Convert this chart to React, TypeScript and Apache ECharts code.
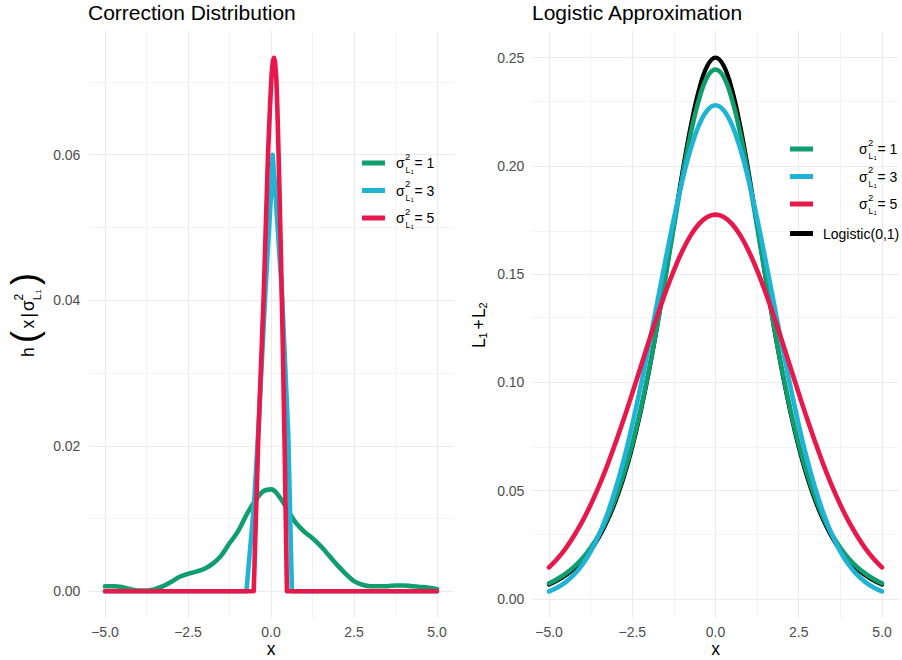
import React, { useEffect, useRef } from "react";
import * as echarts from "echarts";

// ---------- data ----------
const xGrid = [
  -5, -4.75, -4.5, -4.25, -4, -3.75, -3.5, -3.25, -3, -2.75, -2.5, -2.25, -2, -1.75, -1.5, -1.25, -1, -0.75, -0.5, -0.25,
  0, 0.25, 0.5, 0.75, 1, 1.25, 1.5, 1.75, 2, 2.25, 2.5, 2.75, 3, 3.25, 3.5, 3.75, 4, 4.25, 4.5, 4.75, 5,
];

// Left panel: correction distribution
const corrSigma1 = [
  0.0007, 0.0007, 0.0006, 0.0003, 0.0001, 0.0001, 0.0003, 0.0007, 0.0013, 0.002, 0.0024, 0.0027, 0.0031, 0.0038, 0.0049,
  0.0066, 0.0082, 0.0104, 0.0123, 0.0137, 0.014, 0.013, 0.0112, 0.0094, 0.0082, 0.0073, 0.0062, 0.0049, 0.0036, 0.0024,
  0.0014, 0.0009, 0.0007, 0.0007, 0.0007, 0.0008, 0.0008, 0.0007, 0.0006, 0.0005, 0.0003,
];
const corrSigma3X = [-5, -0.74, -0.51, -0.36, -0.17, 0.0, 0.05, 0.1, 0.2, 0.33, 0.52, 0.63, 5];
const corrSigma3 = [0, 0, 0.012, 0.024, 0.041, 0.0545, 0.06, 0.057, 0.05, 0.041, 0.0215, 0, 0];
const corrSigma5X = [-5, -0.52, -0.38, -0.22, -0.09, -0.03, 0.02, 0.06, 0.09, 0.12, 0.16, 0.19, 0.24, 0.29, 0.35, 0.41, 0.48, 5];
const corrSigma5 = [0, 0, 0.0215, 0.0407, 0.06, 0.0666, 0.0712, 0.073, 0.0733, 0.0728, 0.0705, 0.0666, 0.058, 0.048, 0.035, 0.02, 0, 0];

// Right panel: logistic approximation
const approxSigma1 = [
  0.0072, 0.0092, 0.0117, 0.0148, 0.0187, 0.0236, 0.0297, 0.0373, 0.0466, 0.058, 0.0715, 0.0875, 0.1058, 0.1265, 0.149,
  0.172, 0.1945, 0.2145, 0.2305, 0.241, 0.2445, 0.241, 0.2305, 0.2145, 0.1945, 0.172, 0.149, 0.1265, 0.1058, 0.0875,
  0.0715, 0.058, 0.0466, 0.0373, 0.0297, 0.0236, 0.0187, 0.0148, 0.0117, 0.0092, 0.0072,
];
const approxSigma3 = [
  0.0035, 0.0053, 0.0078, 0.0112, 0.0158, 0.0219, 0.0296, 0.0392, 0.0509, 0.0646, 0.0805, 0.0981, 0.1171, 0.1369, 0.1567,
  0.1757, 0.193, 0.2076, 0.2187, 0.2256, 0.228, 0.2256, 0.2187, 0.2076, 0.193, 0.1757, 0.1567, 0.1369, 0.1171, 0.0981,
  0.0805, 0.0646, 0.0509, 0.0392, 0.0296, 0.0219, 0.0158, 0.0112, 0.0078, 0.0053, 0.0035,
];
const approxSigma5 = [
  0.0146, 0.0186, 0.0234, 0.0292, 0.0358, 0.0435, 0.0521, 0.0617, 0.0722, 0.0833, 0.095, 0.107, 0.119, 0.1307, 0.1417,
  0.1518, 0.1606, 0.1678, 0.1731, 0.1764, 0.1775, 0.1764, 0.1731, 0.1678, 0.1606, 0.1518, 0.1417, 0.1307, 0.119, 0.107,
  0.095, 0.0833, 0.0722, 0.0617, 0.0521, 0.0435, 0.0358, 0.0292, 0.0234, 0.0186, 0.0146,
];
const logistic01 = [
  0.0066, 0.0085, 0.0109, 0.0139, 0.0177, 0.0224, 0.0285, 0.036, 0.0452, 0.0565, 0.0701, 0.0863, 0.105, 0.1261, 0.1491,
  0.1731, 0.1966, 0.2179, 0.235, 0.2461, 0.25, 0.2461, 0.235, 0.2179, 0.1966, 0.1731, 0.1491, 0.1261, 0.105, 0.0863,
  0.0701, 0.0565, 0.0452, 0.036, 0.0285, 0.0224, 0.0177, 0.0139, 0.0109, 0.0085, 0.0066,
];

// ticks / grid
const xMajor = [-5, -2.5, 0, 2.5, 5];
const xMinor = [-3.75, -1.25, 1.25, 3.75];
const leftYMajor = [0, 0.02, 0.04, 0.06];
const leftYMinor = [0.01, 0.03, 0.05, 0.07];
const rightYMajor = [0, 0.05, 0.1, 0.15, 0.2, 0.25];
const rightYMinor = [0.025, 0.075, 0.125, 0.175, 0.225];

const legendLabels = ["1", "3", "5"];

// ---------- styles ----------
const GREEN = "#109E6F";
const CYAN = "#1FB4D6";
const RED = "#E8184B";
const BLACK = "#000000";
const GRID = "#EBEBEB";
const TICK = "#4D4D4D";
const FONT = '"Liberation Sans", Arial, Helvetica, sans-serif';

const pairs = (xs: number[], ys: number[]) => xs.map((x, i) => [x, ys[i]]);

function gridSeries(idx: number, yMajor: number[], yMinor: number[]) {
  return {
    type: "line",
    xAxisIndex: idx,
    yAxisIndex: idx,
    data: [[0, 0]],
    symbol: "none",
    lineStyle: { width: 0, opacity: 0 },
    silent: true,
    z: 0,
    markLine: {
      silent: true,
      z: 0,
      symbol: ["none", "none"],
      label: { show: false },
      animation: false,
      lineStyle: { color: GRID, type: "solid" },
      emphasis: { disabled: true },
      data: [
        ...yMinor.map((v) => ({ yAxis: v, lineStyle: { color: GRID, width: 0.6, type: "solid" } })),
        ...xMinor.map((v) => ({ xAxis: v, lineStyle: { color: GRID, width: 0.6, type: "solid" } })),
        ...yMajor.map((v) => ({ yAxis: v, lineStyle: { color: GRID, width: 1.1, type: "solid" } })),
        ...xMajor.map((v) => ({ xAxis: v, lineStyle: { color: GRID, width: 1.1, type: "solid" } })),
      ],
    },
  };
}

function curve(idx: number, data: number[][], color: string, width: number, smooth: number | boolean, z: number) {
  return {
    type: "line",
    xAxisIndex: idx,
    yAxisIndex: idx,
    data,
    symbol: "none",
    showSymbol: false,
    smooth,
    z,
    silent: true,
    lineStyle: { color, width, cap: "round", join: "round" },
  };
}

function txt(text: string, x: number, y: number, size: number, fill = "#000", align = "left", extra: any = {}) {
  return {
    type: "text",
    silent: true,
    z: 50,
    ...extra,
    style: {
      text,
      x,
      y,
      fill,
      fontSize: size,
      fontFamily: FONT,
      align,
      textAlign: align,
      verticalAlign: "middle",
      textVerticalAlign: "middle",
    },
  };
}

// sigma^2_{L1} = v  label, with sigma glyph starting at (x, y)
function sigmaLabel(x: number, y: number, v: string) {
  return [
    txt("σ", x, y, 14),
    txt("2", x + 9, y - 7, 9.5),
    txt("L", x + 9.5, y + 7, 8.5),
    txt("1", x + 14.5, y + 9.4, 6),
    txt("= " + v, x + 18.5, y, 14),
  ];
}

function legendKey(x: number, y: number, color: string) {
  return {
    type: "line",
    silent: true,
    z: 50,
    shape: { x1: x, y1: y, x2: x + 23, y2: y },
    style: { stroke: color, lineWidth: 5 },
  };
}

const legendColors = [GREEN, CYAN, RED];
const leftLegendY = [163, 190.5, 218];
const rightLegendY = [149, 176.5, 204];

const graphic: any[] = [];
legendLabels.forEach((v, i) => {
  graphic.push(legendKey(362, leftLegendY[i], legendColors[i]));
  graphic.push(...sigmaLabel(396, leftLegendY[i], v));
  graphic.push(legendKey(790, rightLegendY[i], legendColors[i]));
  graphic.push(...sigmaLabel(859, rightLegendY[i], v));
});
graphic.push(legendKey(790, 233.5, BLACK));
graphic.push(txt("Logistic(0,1)", 823, 233.5, 14));

// left y title: h(x|sigma^2_L1)
graphic.push({
  type: "group",
  x: 34,
  y: 357,
  rotation: Math.PI / 2,
  silent: true,
  z: 50,
  children: [
    txt("h", 0, -6, 17.5),
    txt("(", 14, -9.5, 36),
    txt("x", 28.5, -6, 17.5),
    txt("|", 39.5, -6, 17.5),
    txt("σ", 46, -6, 17.5),
    txt("2", 56.5, -15.5, 12),
    txt("L", 57, 2.6, 10.5),
    txt("1", 63.5, 4.9, 7.5),
    txt(")", 72, -9.5, 36),
  ],
});

// right y title: L1 + L2
graphic.push({
  type: "group",
  x: 484.5,
  y: 348,
  rotation: Math.PI / 2,
  silent: true,
  z: 50,
  children: [
    txt("L", 0, -6, 17.5),
    txt("1", 9.5, -1.3, 11),
    txt("+", 18.5, -6, 17.5),
    txt("L", 30, -6, 17.5),
    txt("2", 39.5, -1.3, 11),
  ],
});

const fmtX = (v: number) => (v < 0 ? "\u2212" : "") + Math.abs(v).toFixed(1);

function xAxisOpt(idx: number) {
  return {
    type: "value",
    gridIndex: idx,
    min: -5.5,
    max: 5.5,
    name: "x",
    nameLocation: "middle",
    nameGap: 22,
    nameMoveOverlap: false,
    nameTextStyle: { color: "#000", fontSize: 17.5, fontFamily: FONT, lineHeight: 18 },
    axisLine: { show: false },
    axisTick: { show: false },
    splitLine: { show: false },
    axisLabel: {
      customValues: xMajor,
      formatter: fmtX,
      color: TICK,
      fontSize: 14,
      fontFamily: FONT,
      margin: 7,
    },
  };
}

function yAxisOpt(idx: number, min: number, max: number, ticks: number[], digits: number) {
  return {
    type: "value",
    gridIndex: idx,
    min,
    max,
    axisLine: { show: false },
    axisTick: { show: false },
    splitLine: { show: false },
    axisLabel: {
      customValues: ticks,
      formatter: (v: number) => v.toFixed(digits),
      color: TICK,
      fontSize: 14,
      fontFamily: FONT,
      margin: 8,
    },
  };
}

const option: any = {
  animation: false,
  backgroundColor: "#ffffff",
  title: [
    {
      text: "Correction Distribution",
      left: 88,
      top: 2,
      padding: 0,
      textStyle: { color: "#000", fontSize: 21, fontWeight: "normal", fontFamily: FONT },
    },
    {
      text: "Logistic Approximation",
      left: 532,
      top: 2,
      padding: 0,
      textStyle: { color: "#000", fontSize: 21, fontWeight: "normal", fontFamily: FONT },
    },
  ],
  grid: [
    { left: 88.4, right: 448.4, top: 31, bottom: 42, containLabel: false, outerBoundsMode: "none" },
    { left: 532.4, right: 3.4, top: 31, bottom: 42, containLabel: false, outerBoundsMode: "none" },
  ],
  xAxis: [xAxisOpt(0), xAxisOpt(1)],
  yAxis: [
    yAxisOpt(0, -0.00367, 0.077, leftYMajor, 2),
    yAxisOpt(1, -0.0088, 0.2623, rightYMajor, 2),
  ],
  series: [
    gridSeries(0, leftYMajor, leftYMinor),
    gridSeries(1, rightYMajor, rightYMinor),
    curve(0, pairs(xGrid, corrSigma1), GREEN, 4.6, 0.4, 3),
    curve(0, pairs(corrSigma3X, corrSigma3), CYAN, 4.6, false, 4),
    curve(0, pairs(corrSigma5X, corrSigma5), RED, 4.6, false, 5),
    curve(1, pairs(xGrid, logistic01), BLACK, 4.2, 0.4, 2),
    curve(1, pairs(xGrid, approxSigma1), GREEN, 4.6, 0.4, 3),
    curve(1, pairs(xGrid, approxSigma3), CYAN, 4.6, 0.4, 4),
    curve(1, pairs(xGrid, approxSigma5), RED, 4.6, 0.4, 5),
  ],
  graphic,
};

export default function App() {
  const ref = useRef<HTMLDivElement>(null);
  useEffect(() => {
    const chart = echarts.init(ref.current as HTMLDivElement, null, { renderer: "svg" });
    chart.setOption(option);
    return () => chart.dispose();
  }, []);
  return (
    <div
      ref={ref}
      style={{ position: "absolute", left: 0, top: 0, width: 902, height: 660, background: "#fff" }}
    />
  );
}
